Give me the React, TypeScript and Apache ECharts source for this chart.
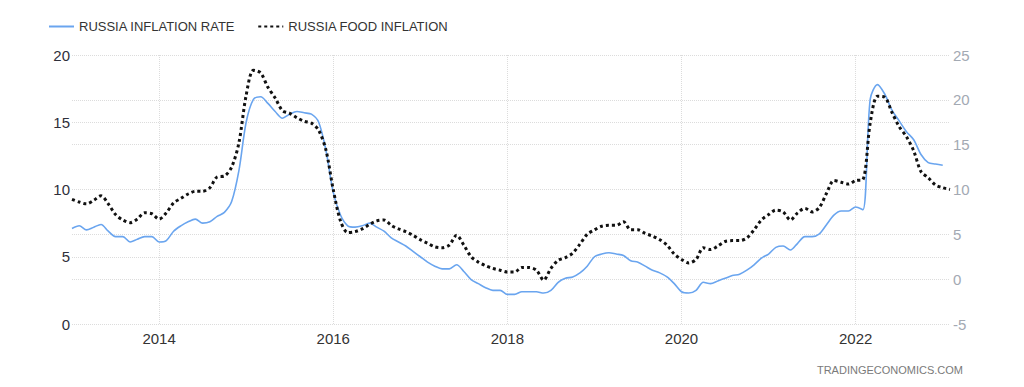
import React, { useEffect, useRef } from "react";
import * as echarts from "echarts";

// Monthly categories Jan 2013 .. Feb 2023
const months: string[] = [];
for (let y = 2013; y <= 2023; y++) {
  for (let m = 1; m <= 12; m++) {
    if (y === 2023 && m > 2) break;
    months.push(`${y}-${m < 10 ? "0" + m : m}`);
  }
}

const seriesNames = ["RUSSIA INFLATION RATE", "RUSSIA FOOD INFLATION"];

// Russia inflation rate (%), left axis, Jan 2013 .. Jan 2023
const inflationRate = [
  7.1, 7.3, 7.0, 7.2, 7.4, 6.9, 6.5, 6.5, 6.1, 6.3, 6.5, 6.5,
  6.1, 6.2, 6.9, 7.3, 7.6, 7.8, 7.5, 7.6, 8.0, 8.3, 9.1, 11.4,
  15.0, 16.7, 16.9, 16.4, 15.8, 15.3, 15.6, 15.8, 15.7, 15.6, 15.0, 12.9,
  9.8, 8.1, 7.3, 7.2, 7.3, 7.5, 7.2, 6.9, 6.4, 6.1, 5.8, 5.4,
  5.0, 4.6, 4.3, 4.1, 4.1, 4.4, 3.9, 3.3, 3.0, 2.7, 2.5, 2.5,
  2.2, 2.2, 2.4, 2.4, 2.4, 2.3, 2.5, 3.1, 3.4, 3.5, 3.8, 4.3,
  5.0, 5.2, 5.3, 5.2, 5.1, 4.7, 4.6, 4.3, 4.0, 3.8, 3.5, 3.0,
  2.4, 2.3, 2.5, 3.1, 3.0, 3.2, 3.4, 3.6, 3.7, 4.0, 4.4, 4.9,
  5.2, 5.7, 5.8, 5.5, 6.0, 6.5, 6.5, 6.7, 7.4, 8.1, 8.4, 8.4,
  8.7, 8.5, 16.7, 17.8, 17.1, 15.9, 15.1, 14.3, 13.7, 12.6, 12.0, 11.9,
  11.8,
];

// Russia food inflation (%), right axis, Jan 2013 .. Feb 2023
const foodInflation = [
  8.9, 8.6, 8.4, 8.8, 9.3, 8.4, 7.2, 6.6, 6.3, 6.7, 7.4, 7.3,
  6.7, 7.4, 8.5, 9.0, 9.5, 9.8, 9.8, 10.2, 11.4, 11.5, 12.5, 15.2,
  20.5, 23.3, 23.0, 21.4, 20.2, 18.8, 18.5, 18.0, 17.6, 17.4, 16.6, 14.4,
  10.0, 6.5, 5.2, 5.3, 5.6, 6.1, 6.5, 6.6, 6.0, 5.6, 5.3, 4.9,
  4.4, 4.0, 3.6, 3.5, 3.8, 4.9, 3.8, 2.5, 1.9, 1.5, 1.2, 1.0,
  0.8, 0.8, 1.3, 1.3, 1.0, -0.1, 1.2, 2.1, 2.4, 2.9, 3.9, 5.0,
  5.5, 5.9, 6.0, 6.0, 6.4, 5.5, 5.5, 5.1, 4.8, 4.4, 3.8, 2.8,
  2.2, 1.8, 2.2, 3.5, 3.3, 3.7, 4.2, 4.3, 4.3, 4.6, 5.5, 6.6,
  7.2, 7.7, 7.5, 6.6, 7.4, 7.9, 7.5, 8.0, 9.6, 11.0, 10.8, 10.6,
  11.0, 11.1, 17.4, 20.4, 20.3, 18.6, 17.0, 15.9, 14.3, 12.0, 11.3, 10.5,
  10.2, 10.0,
];

const leftAxis = { min: 0, max: 20, interval: 5 };
const rightAxis = { min: -5, max: 25, interval: 5 };
const watermark = "TRADINGECONOMICS.COM";

const FONT = "Arial, 'Liberation Sans', sans-serif";

const isEvenYearJan = (_i: number, v: string) =>
  v.endsWith("-01") && parseInt(v.slice(0, 4), 10) % 2 === 0;

export default function App() {
  const ref = useRef<HTMLDivElement>(null);
  useEffect(() => {
    if (!ref.current) return;
    const chart = echarts.init(ref.current, undefined, { renderer: "svg" });
    const gridLine = { show: true, lineStyle: { color: "#dcdcdc", type: "dotted", width: 1 } };
    chart.setOption({
      animation: false,
      backgroundColor: "#ffffff",
      textStyle: { fontFamily: FONT },
      legend: {
        left: 43,
        top: 15,
        itemWidth: 25,
        itemHeight: 14,
        itemGap: 22,
        itemStyle: { opacity: 0 },
        textStyle: { fontSize: 13, color: "#333", fontFamily: FONT },
        data: seriesNames,
      },
      grid: { left: 72, right: 74, top: 55, bottom: 63, containLabel: false },
      xAxis: {
        type: "category",
        data: months,
        boundaryGap: false,
        axisLine: { show: false },
        axisTick: { show: false },
        axisLabel: {
          interval: isEvenYearJan,
          formatter: (v: string) => v.slice(0, 4),
          fontSize: 15,
          color: "#333",
          margin: 7,
          fontFamily: FONT,
        },
        splitLine: { ...gridLine, interval: isEvenYearJan },
      },
      yAxis: [
        {
          type: "value",
          ...leftAxis,
          axisLine: { show: false },
          axisTick: { show: false },
          axisLabel: { fontSize: 15, color: "#2f2f3a", margin: 2, fontFamily: FONT },
          splitLine: gridLine,
        },
        {
          type: "value",
          ...rightAxis,
          position: "right",
          axisLine: { show: false },
          axisTick: { show: false },
          axisLabel: { fontSize: 15, color: "#a3a9b3", margin: 3, fontFamily: FONT },
          splitLine: gridLine,
        },
      ],
      series: [
        {
          name: seriesNames[0],
          type: "line",
          yAxisIndex: 0,
          data: inflationRate,
          symbol: "none",
          smooth: 0.3,
          lineStyle: { color: "#6aa5ef", width: 1.6 },
          itemStyle: { color: "#6aa5ef" },
          z: 2,
        },
        {
          name: seriesNames[1],
          type: "line",
          yAxisIndex: 1,
          data: foodInflation,
          symbol: "none",
          smooth: 0.3,
          lineStyle: { color: "#111", width: 3, type: [3, 3] },
          itemStyle: { color: "#111" },
          z: 3,
        },
      ],
      graphic: [
        {
          type: "text",
          right: 61,
          top: 364,
          style: { text: watermark, fontSize: 11, fill: "#7a7a7a", fontFamily: FONT },
        },
      ],
    });
    return () => chart.dispose();
  }, []);
  return (
    <div
      ref={ref}
      style={{ position: "fixed", left: 0, top: 0, width: 1024, height: 387 }}
    />
  );
}
